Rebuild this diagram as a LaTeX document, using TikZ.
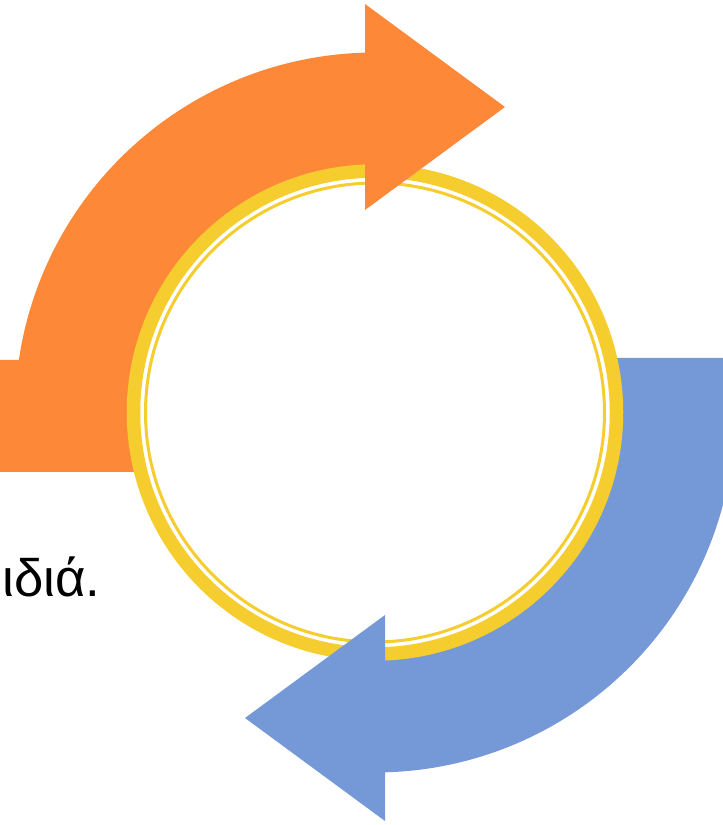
\documentclass[tikz,border=0pt]{standalone}
\usepackage{fontspec}
\setmainfont{Liberation Sans}
\begin{document}
\begin{tikzpicture}[x=0.02cm,y=0.02cm]
        % Define colors
        \definecolor{orangecolor}{RGB}{253, 136, 56}  % Orange
        \definecolor{bluecolor}{RGB}{117, 153, 214}   % Blue
        \definecolor{ringcolor}{RGB}{245, 205, 47}    % Gold

        \useasboundingbox (0,0) rectangle (723,825);

        % Text on the left
        \node[anchor=base east, inner sep=0pt, font=\fontsize{30}{36}\selectfont] (label) at (101,228) {ιδιά.};

        \begin{scope}[shift={(375,412.5)}]
        % Draw orange shaft
        \fill[orangecolor] (-375,-59.5) -- (-375,52.5) -- (171.6:360) arc[start angle=171.6, end angle=91.6, radius=360] -- (-10,240) -- (-240,-59.5) -- cycle;

        % Draw blue shaft
        \fill[bluecolor] (375,54.5) -- (375,-57.5) -- (-9.19:360) arc[start angle=-9.19, end angle=-88.41, radius=360] -- (10,-240) -- (240,54.5) -- cycle;

        % Draw ring
        \draw[ringcolor, line width=0.27cm, fill=white] (0,0) circle[radius=241.5];
        \draw[ringcolor, line width=0.06cm] (0,0) circle[radius=229.5];

        % Draw arrow heads
        \fill[orangecolor] (-10,408.5) -- (130,305.5) -- (-10,202.5) -- cycle;
        \fill[bluecolor] (10,-202.5) -- (-130,-305.5) -- (10,-408.5) -- cycle;
        \end{scope}
\end{tikzpicture}
\end{document}
